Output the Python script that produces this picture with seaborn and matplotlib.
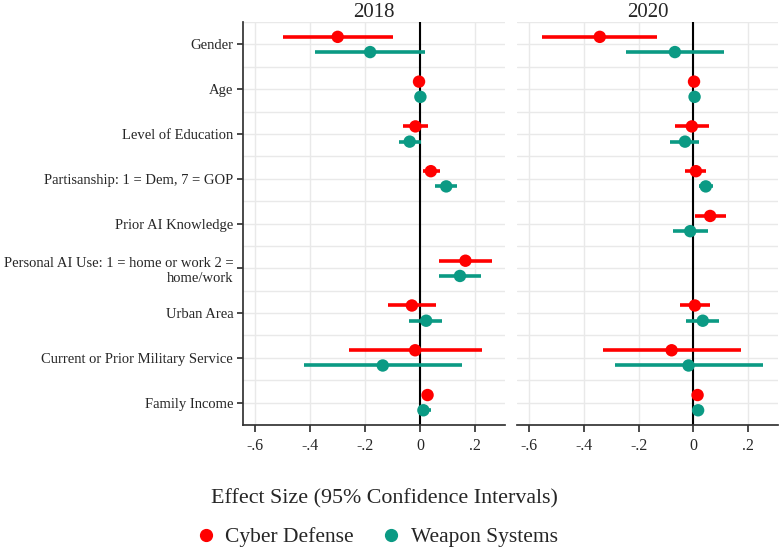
import numpy as np
import pandas as pd
import matplotlib
matplotlib.use("Agg")
import matplotlib.pyplot as plt
import seaborn as sns
from matplotlib.lines import Line2D

# ----- data -----
variables = [
    "Gender",
    "Age",
    "Level of Education",
    "Partisanship: 1 = Dem, 7 = GOP",
    "Prior AI Knowledge",
    "Personal AI Use: 1 = home or work 2 =\nhome/work",
    "Urban Area",
    "Current or Prior Military Service",
    "Family Income",
]
years = ["2018", "2020"]
series = ["Cyber Defense", "Weapon Systems"]

# 2018
cyber_2018 = [-0.300, -0.004, -0.017, 0.039, np.nan, 0.165, -0.030, -0.018, 0.027]
cyber_2018_lo = [-0.500, -0.006, -0.064, 0.010, np.nan, 0.069, -0.116, -0.260, 0.022]
cyber_2018_hi = [-0.097, -0.002, 0.030, 0.073, np.nan, 0.260, 0.056, 0.224, 0.032]
weapon_2018 = [-0.182, 0.001, -0.038, 0.095, np.nan, 0.145, 0.022, -0.136, 0.012]
weapon_2018_lo = [-0.384, -0.001, -0.078, 0.053, np.nan, 0.070, -0.039, -0.424, -0.008]
weapon_2018_hi = [0.016, 0.003, 0.002, 0.135, np.nan, 0.221, 0.081, 0.153, 0.038]

# 2020
cyber_2020 = [-0.342, 0.003, -0.005, 0.010, 0.062, np.nan, 0.006, -0.079, 0.016]
cyber_2020_lo = [-0.552, 0.001, -0.067, -0.029, 0.005, np.nan, -0.050, -0.331, 0.002]
cyber_2020_hi = [-0.131, 0.005, 0.059, 0.047, 0.120, np.nan, 0.062, 0.175, 0.032]
weapon_2020 = [-0.067, 0.005, -0.030, 0.046, -0.011, np.nan, 0.035, -0.017, 0.018]
weapon_2020_lo = [-0.246, 0.003, -0.084, 0.020, -0.074, np.nan, -0.025, -0.286, 0.005]
weapon_2020_hi = [0.113, 0.007, 0.023, 0.073, 0.056, np.nan, 0.093, 0.254, 0.033]

xticks = [-0.6, -0.4, -0.2, 0, 0.2]
xtick_labels = ["-.6", "-.4", "-.2", "0", ".2"]

colors = {"Cyber Defense": "#ff0000", "Weapon Systems": "#0b9a84"}
offsets = {"Cyber Defense": -0.17, "Weapon Systems": 0.17}

# ----- long table -----
rows = []
tables = {
    ("2018", "Cyber Defense"): (cyber_2018, cyber_2018_lo, cyber_2018_hi),
    ("2018", "Weapon Systems"): (weapon_2018, weapon_2018_lo, weapon_2018_hi),
    ("2020", "Cyber Defense"): (cyber_2020, cyber_2020_lo, cyber_2020_hi),
    ("2020", "Weapon Systems"): (weapon_2020, weapon_2020_lo, weapon_2020_hi),
}
for (yr, s), (est, lo, hi) in tables.items():
    for i, v in enumerate(variables):
        rows.append(dict(year=yr, series=s, variable=v, idx=i,
                         est=est[i], lo=lo[i], hi=hi[i]))
df = pd.DataFrame(rows).dropna()
df["ypos"] = df["idx"] + df["series"].map(offsets)

# ----- style -----
sns.set_theme(style="white")
plt.rcParams["font.family"] = ["Liberation Serif", "DejaVu Serif"]

fig = plt.figure(figsize=(7.81, 5.52), dpi=100)
ax1 = fig.add_axes([0.311, 0.230, 0.336, 0.730])
ax2 = fig.add_axes([0.662, 0.230, 0.334, 0.730])

for ax, yr in zip([ax1, ax2], years):
    sub = df[df["year"] == yr]
    # grid
    ax.set_yticks(np.arange(len(variables)))
    ax.set_yticks(np.arange(-0.5, len(variables), 1.0), minor=True)
    ax.set_xticks(xticks)
    ax.set_xticklabels(xtick_labels, fontsize=11.5)
    ax.grid(True, which="both", color="#e9e9e9", linewidth=1.0)
    ax.set_axisbelow(True)
    ax.axvline(0, color="black", linewidth=1.5, zorder=1)

    for s in series:
        d = sub[sub["series"] == s]
        ax.hlines(d["ypos"], d["lo"], d["hi"], color=colors[s],
                  linewidth=2.6, zorder=2)
    sns.scatterplot(data=sub, x="est", y="ypos", hue="series",
                    palette=colors, s=80, edgecolor="none", ax=ax,
                    legend=False, zorder=3)

    ax.set_xlim(-0.645, 0.31)
    ax.set_ylim(len(variables) - 0.5, -0.5)
    ax.set_title(yr, fontsize=15, pad=4)
    ax.set_xlabel("")
    ax.set_ylabel("")
    for side in ["top", "right"]:
        ax.spines[side].set_visible(False)
    ax.spines["bottom"].set_color("#333333")
    ax.spines["left"].set_color("#333333")
    ax.tick_params(axis="x", which="major", bottom=True, length=5,
                   color="#333333", pad=4)
    ax.tick_params(axis="y", which="minor", left=False)

ax1.set_yticklabels(variables, fontsize=10.5)
ax1.tick_params(axis="y", which="major", left=True, length=4,
                color="#333333", pad=3)
ax2.spines["left"].set_visible(False)
ax2.tick_params(axis="y", which="major", left=False, labelleft=False)

fig.text(0.492, 0.097, "Effect Size (95% Confidence Intervals)",
         ha="center", va="center", fontsize=15.8)

handles = [Line2D([], [], marker="o", linestyle="none", color=colors[s],
                  markersize=8.5, label=s) for s in series]
fig.legend(handles=handles, loc="center", bbox_to_anchor=(0.482, 0.027),
           ncol=2, frameon=False, fontsize=15.5, handlelength=1.0,
           handletextpad=0.4, columnspacing=1.25)

fig.savefig("out.png", dpi=100)
